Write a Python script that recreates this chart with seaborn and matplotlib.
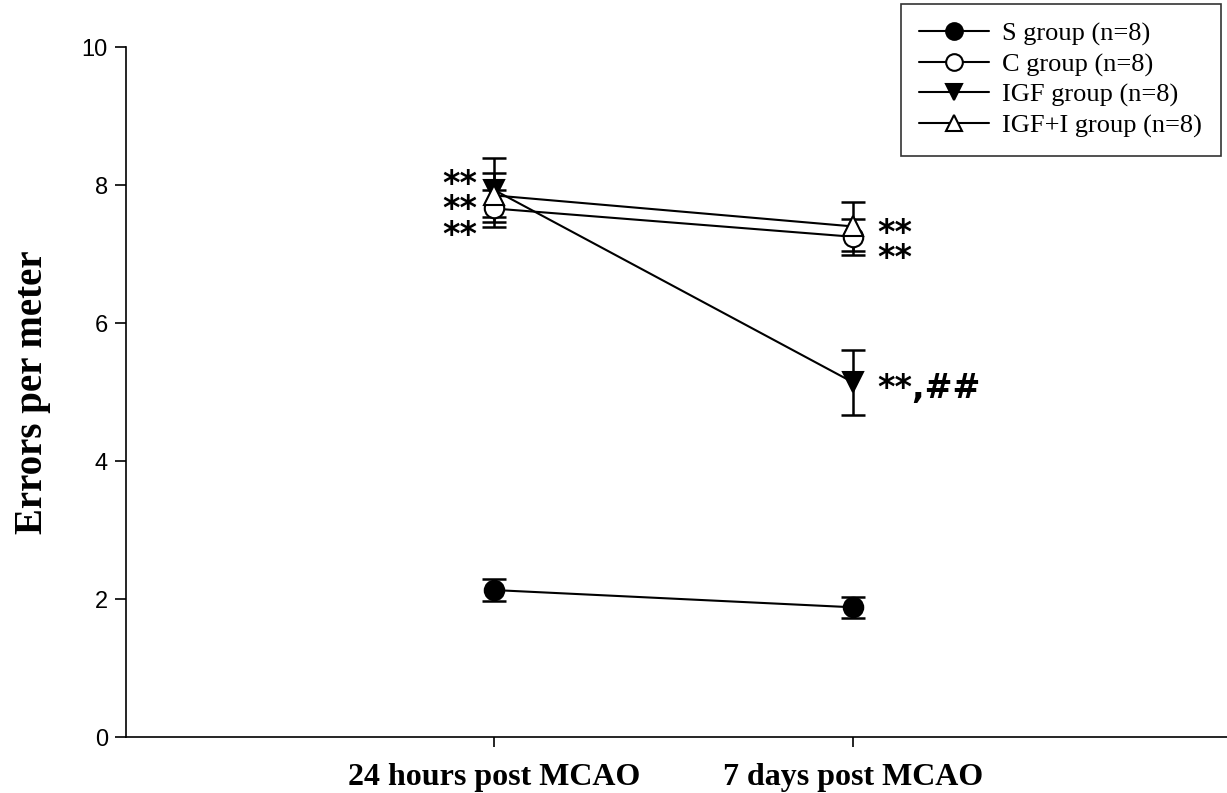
import numpy as np
import pandas as pd
import matplotlib
matplotlib.use('Agg')
import matplotlib.pyplot as plt
import seaborn as sbn

timepoints = ['24 hours post MCAO', '7 days post MCAO']
groups = ['S group (n=8)', 'C group (n=8)', 'IGF group (n=8)', 'IGF+I group (n=8)']
means = {
    'S group (n=8)': [2.13, 1.88],
    'C group (n=8)': [7.66, 7.25],
    'IGF group (n=8)': [7.93, 5.14],
    'IGF+I group (n=8)': [7.85, 7.40],
}
sems = {
    'S group (n=8)': [0.16, 0.15],
    'C group (n=8)': [0.27, 0.26],
    'IGF group (n=8)': [0.46, 0.47],
    'IGF+I group (n=8)': [0.32, 0.36],
}
# significance labels next to each time point (centre y, text)
marks_24h = (7.74, '**\n**\n**')
marks_7d = [(7.22, '**\n**'), (5.15, '**,##')]

styles = {
    'S group (n=8)': ('o', 'black'),
    'C group (n=8)': ('o', 'white'),
    'IGF group (n=8)': ('v', 'black'),
    'IGF+I group (n=8)': ('^', 'white'),
}

rows = []
for g in groups:
    for i, t in enumerate(timepoints):
        rows.append({'group': g, 'time': t, 'pos': i + 1, 'mean': means[g][i], 'sem': sems[g][i]})
df = pd.DataFrame(rows)

sbn.set_style('ticks')
plt.rcParams['text.color'] = 'black'
plt.rcParams['xtick.color'] = 'black'
plt.rcParams['ytick.color'] = 'black'
plt.rcParams['axes.edgecolor'] = 'black'
plt.rcParams['axes.labelcolor'] = 'black'

fig = plt.figure(figsize=(12.27, 7.93), dpi=100)
ax = fig.add_axes([0.1027, 0.0706, 0.8973, 0.8701])

for g in groups:
    sub = df[df['group'] == g]
    mk, fc = styles[g]
    ax.errorbar(sub['pos'], sub['mean'], yerr=sub['sem'], fmt='none', ecolor='black',
                elinewidth=1.8, capsize=8.5, capthick=1.8, zorder=2)
    sbn.lineplot(data=sub, x='pos', y='mean', ax=ax, color='black', linewidth=1.5,
                 marker=mk, markersize=14, markerfacecolor=fc, markeredgecolor='black',
                 markeredgewidth=1.5, label=g, legend=False, zorder=3)

# asterisks sit high in the line box, so shift down a little
off = 0.1
y, s = marks_24h
ax.text(0.953, y - off, s, ha='right', va='center', fontsize=24, fontweight='bold',
        family='DejaVu Sans', linespacing=0.7)
for y, s in marks_7d:
    ax.text(2.067, y - off, s, ha='left', va='center', fontsize=24, fontweight='bold',
            family='DejaVu Sans', linespacing=0.7)

ax.set_xlim(-0.025, 3.042)
ax.set_ylim(0, 10)
ax.set_yticks([0, 2, 4, 6, 8, 10])
ax.set_xticks([1, 2])
ax.set_xticklabels(timepoints, fontsize=23, fontweight='bold', family='Liberation Serif')
ax.tick_params(axis='y', labelsize=17, length=8, width=1.2, direction='out', pad=5)
ax.tick_params(axis='x', length=7, width=1.2, direction='out', pad=12)
for lab in ax.get_yticklabels():
    lab.set_family('Liberation Sans')
ax.set_xlabel('')
ax.set_ylabel('Errors per meter', fontsize=28, fontweight='bold', family='Liberation Serif')
ax.yaxis.set_label_coords(-0.068, 0.5)
for sp in ['top', 'right']:
    ax.spines[sp].set_visible(False)
ax.spines['left'].set_linewidth(1.2)
ax.spines['bottom'].set_linewidth(1.2)

handles, labels = ax.get_legend_handles_labels()
leg = fig.legend(handles, labels, loc='upper right', bbox_to_anchor=(0.996, 0.997),
                 prop={'family': 'Liberation Serif', 'size': 19}, frameon=True,
                 fancybox=False, edgecolor='black', handlelength=2.65, borderpad=0.7,
                 labelspacing=0.25, handletextpad=0.5, borderaxespad=0.05)
leg.get_frame().set_linewidth(1.2)
for h in leg.legend_handles:
    h.set_markersize(12)

fig.savefig('out.png', dpi=100)
